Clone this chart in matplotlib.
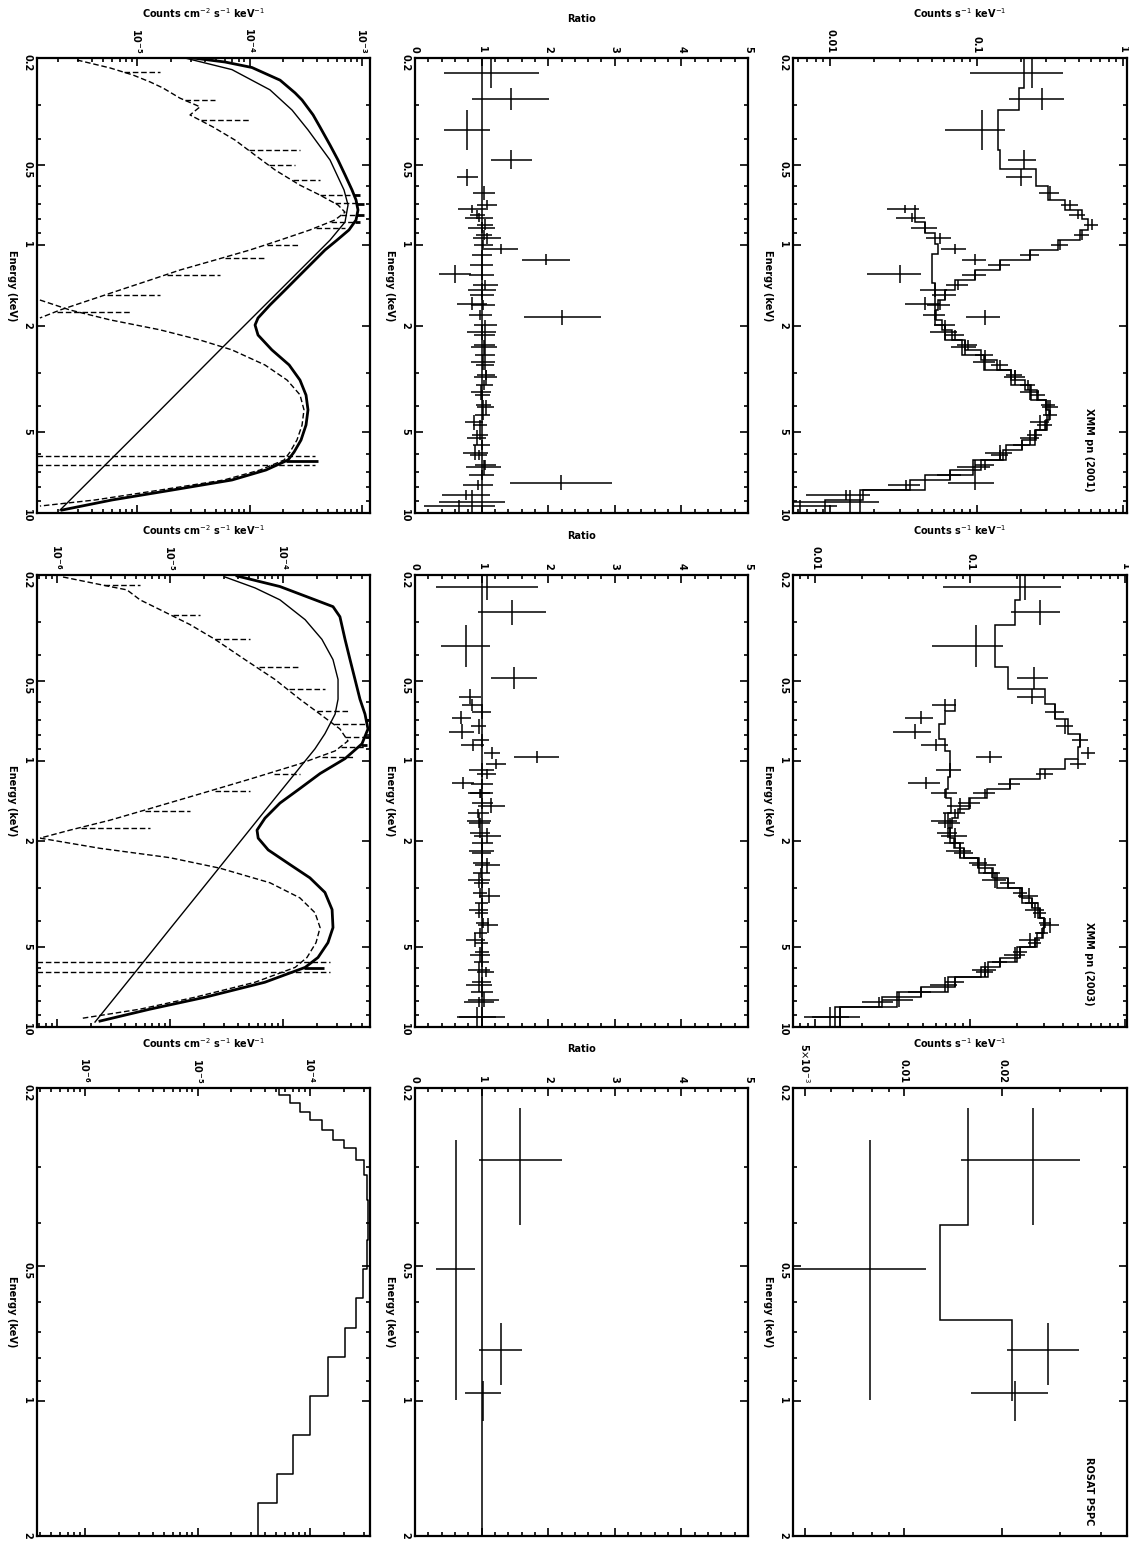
import numpy as np
import matplotlib.pyplot as plt
from matplotlib.ticker import FixedLocator, NullFormatter, LogLocator, MultipleLocator, FuncFormatter

W, H = 1129, 1541
COLS = [(37, 370), (415, 748), (793, 1127)]
ROWS = [(58, 513), (575, 1027), (1088, 1536)]

# ---------------- row 1 : data (two spectra) ----------------
r1a_edges = [0.200, 0.259, 0.313, 0.441, 0.52, 0.60, 0.68, 0.74, 0.80, 0.88, 0.96, 1.04, 1.14, 1.24,
             1.35, 1.47, 1.60, 1.75, 1.90, 2.07, 2.26, 2.46, 2.68, 2.92, 3.19, 3.47, 3.78, 4.12,
             4.50, 4.90, 5.34, 5.82, 6.34, 6.91, 7.53, 8.21, 8.94, 10.0]
r1a_cts = [0.24, 0.28, 0.109, 0.21, 0.20, 0.318, 0.435, 0.49, 0.61, 0.525, 0.37, 0.232, 0.145, 0.098,
           0.075, 0.061, 0.056, 0.052, 0.061, 0.071, 0.087, 0.114, 0.145, 0.183, 0.224, 0.263,
           0.308, 0.318, 0.293, 0.25, 0.204, 0.145, 0.114, 0.066, 0.033, 0.0128, 0.0062]
r1a_err = [0.15, 0.113, 0.048, 0.045, 0.04, 0.05, 0.06, 0.06, 0.07, 0.06, 0.05, 0.035, 0.025, 0.018,
           0.013, 0.011, 0.010, 0.009, 0.010, 0.011, 0.013, 0.016, 0.019, 0.023, 0.027, 0.03,
           0.034, 0.035, 0.033, 0.03, 0.026, 0.02, 0.017, 0.012, 0.008, 0.006, 0.005]
r1a_mod = [0.21, 0.195, 0.14, 0.145, 0.255, 0.308, 0.40, 0.525, 0.577, 0.508, 0.36, 0.232, 0.145,
           0.098, 0.071, 0.061, 0.055, 0.053, 0.058, 0.068, 0.083, 0.108, 0.138, 0.172, 0.215,
           0.26, 0.30, 0.312, 0.30, 0.255, 0.204, 0.152, 0.108, 0.066, 0.035, 0.0167, 0.0093]
r1b_edges = [0.71, 0.76, 0.82, 0.90, 0.99, 1.08, 1.19, 1.39, 1.56, 1.75, 1.98, 2.26, 2.57, 2.92,
             3.32, 3.78, 4.30, 4.90, 5.58, 6.34, 7.21, 8.21, 10.0]
r1b_cts = [0.0325, 0.0364, 0.0445, 0.056, 0.071, 0.098, 0.030, 0.052, 0.0445, 0.115, 0.061, 0.083,
           0.114, 0.183, 0.232, 0.318, 0.271, 0.232, 0.145, 0.098, 0.098, 0.0137]
r1b_err = [0.008, 0.008, 0.009, 0.011, 0.014, 0.018, 0.012, 0.011, 0.012, 0.03, 0.013, 0.016, 0.02,
           0.03, 0.035, 0.04, 0.04, 0.035, 0.03, 0.025, 0.034, 0.008]
r1b_mod = [0.038, 0.038, 0.0445, 0.052, 0.055, 0.05, 0.05, 0.052, 0.052, 0.052, 0.061, 0.08, 0.112,
           0.172, 0.235, 0.30, 0.305, 0.25, 0.16, 0.095, 0.0447, 0.016]

# ---------------- row 2 : data (two spectra) ----------------
r2a_edges = [0.200, 0.248, 0.307, 0.445, 0.538, 0.612, 0.696, 0.79, 0.885, 0.98, 1.07, 1.17, 1.27,
             1.38, 1.51, 1.64, 1.79, 1.95, 2.13, 2.31, 2.53, 2.75, 3.0, 3.27, 3.56, 3.88, 4.23,
             4.62, 5.02, 5.48, 5.97, 6.51, 7.09, 7.73, 8.42, 10.0]
r2a_cts = [0.227, 0.283, 0.11, 0.26, 0.25, 0.354, 0.41, 0.513, 0.577, 0.50, 0.305, 0.181, 0.125,
           0.10, 0.08, 0.074, 0.072, 0.08, 0.092, 0.113, 0.139, 0.176, 0.21, 0.25, 0.283, 0.305,
           0.29, 0.263, 0.21, 0.156, 0.125, 0.08, 0.048, 0.026, 0.0125]
r2a_err = [0.16, 0.10, 0.053, 0.06, 0.05, 0.05, 0.05, 0.06, 0.06, 0.06, 0.04, 0.03, 0.02, 0.016,
           0.013, 0.012, 0.011, 0.012, 0.013, 0.015, 0.018, 0.02, 0.022, 0.025, 0.027, 0.028,
           0.028, 0.026, 0.022, 0.018, 0.015, 0.011, 0.008, 0.006, 0.004]
r2a_mod = [0.21, 0.195, 0.145, 0.175, 0.305, 0.354, 0.43, 0.513, 0.50, 0.41, 0.283, 0.181, 0.128,
           0.099, 0.084, 0.076, 0.074, 0.079, 0.092, 0.113, 0.14, 0.176, 0.215, 0.25, 0.283, 0.30,
           0.295, 0.262, 0.21, 0.156, 0.118, 0.08, 0.048, 0.027, 0.0135]
r2b_edges = [0.586, 0.65, 0.727, 0.83, 0.917, 1.02, 1.15, 1.27, 1.38, 1.57, 1.79, 2.04, 2.31, 2.63,
             3.0, 3.43, 3.88, 4.42, 5.02, 5.71, 6.51, 7.4, 8.42, 10.0]
r2b_cts = [0.069, 0.048, 0.044, 0.06, 0.135, 0.074, 0.052, 0.069, 0.086, 0.069, 0.08, 0.086, 0.125,
           0.145, 0.24, 0.263, 0.328, 0.244, 0.195, 0.125, 0.069, 0.035, 0.0145]
r2b_err = [0.012, 0.01, 0.012, 0.012, 0.025, 0.014, 0.012, 0.013, 0.015, 0.013, 0.015, 0.016, 0.022,
           0.025, 0.035, 0.038, 0.045, 0.038, 0.03, 0.022, 0.014, 0.008, 0.005]
r2b_mod = [0.08, 0.069, 0.063, 0.069, 0.074, 0.074, 0.072, 0.07, 0.075, 0.072, 0.074, 0.086, 0.115,
           0.15, 0.215, 0.275, 0.30, 0.27, 0.2, 0.13, 0.072, 0.034, 0.0145]

# ---------------- row 3 : data (one faint spectrum) ----------------
r3_e = [0.289, 0.507, 0.768, 0.96]
r3_elo = [0.222, 0.261, 0.67, 0.90]
r3_ehi = [0.405, 0.994, 0.92, 1.11]
r3_cts = [0.0248, 0.0079, 0.0275, 0.0218]
r3_err = [0.0098, 0.0038, 0.0068, 0.0058]
r3_mod = [0.0157, 0.0129, 0.0214, 0.0214]
r3_mod_edges = [0.222, 0.405, 0.66, 1.0]
r3_mod_step = [0.0157, 0.0129, 0.0214]

# ---------------- model panels ----------------
m1_tot_e = [0.200, 0.207, 0.217, 0.242, 0.270, 0.287, 0.326, 0.362, 0.423, 0.481, 0.546, 0.622, 0.678,
            0.739, 0.805, 0.877, 0.957, 1.042, 1.155, 1.292, 1.470, 1.672, 1.87, 1.986, 2.165, 2.46,
            2.80, 3.19, 3.63, 4.12, 4.69, 5.34, 5.92, 6.34, 6.91, 7.53, 8.21, 8.94, 9.75]
m1_tot_f = [3.15e-5, 6.05e-5, 1.05e-4, 1.87e-4, 2.54e-4, 2.93e-4, 3.67e-4, 4.23e-4, 5.20e-4, 6.12e-4,
            7.06e-4, 8.15e-4, 8.85e-4, 9.21e-4, 8.85e-4, 7.66e-4, 6.0e-4, 4.69e-4, 3.67e-4, 2.81e-4,
            2.07e-4, 1.52e-4, 1.19e-4, 1.12e-4, 1.19e-4, 1.58e-4, 2.25e-4, 2.81e-4, 3.18e-4, 3.31e-4,
            3.18e-4, 2.87e-4, 2.49e-4, 2.20e-4, 1.40e-4, 6.98e-5, 2.05e-5, 6.0e-6, 2.15e-6]
m1_pl_e = [0.200, 0.221, 0.263, 0.313, 0.371, 0.481, 0.622, 0.708, 0.82, 0.957, 1.470, 2.46, 4.50, 9.75]
m1_pl_f = [2.67e-5, 6.98e-5, 1.52e-4, 2.39e-4, 3.31e-4, 5.20e-4, 6.92e-4, 7.51e-4, 7.06e-4, 5.20e-4,
           1.87e-4, 5.47e-5, 1.31e-5, 2.07e-6]
m1_th_e = [0.2035, 0.2178, 0.2315, 0.2458, 0.2588, 0.2825, 0.3043, 0.3264, 0.362, 0.405, 0.461, 0.524,
           0.597, 0.650, 0.708, 0.753, 0.805, 0.877, 0.957, 1.042, 1.136, 1.238, 1.349, 1.470,
           1.602, 1.746, 1.87]
m1_th_f = [2.93e-6, 5.75e-6, 9.2e-6, 1.31e-5, 1.70e-5, 2.41e-5, 3.63e-5, 2.96e-5, 4.74e-5, 7.43e-5,
           1.12e-4, 1.69e-4, 2.81e-4, 4.23e-4, 6.12e-4, 7.06e-4, 5.75e-4, 3.45e-4, 1.87e-4, 1.01e-4,
           4.94e-5, 2.41e-5, 1.31e-5, 7.06e-6, 3.82e-6, 2.07e-6, 1.37e-6]
m1_thl_e = [0.2256, 0.287, 0.341, 0.441, 0.502, 0.571, 0.650, 0.696, 0.772, 0.82, 0.862, 1.0, 1.115,
            1.295, 1.537, 1.77]
m1_thl_f = [1.60e-5, 4.94e-5, 1.01e-4, 2.81e-4, 2.54e-4, 4.23e-4, 7.82e-4, 9.60e-4, 9.60e-4, 8.67e-4,
            7.06e-4, 2.81e-4, 1.37e-4, 5.47e-5, 1.60e-5, 8.67e-6]
m1_abs_e = [1.602, 1.746, 1.90, 2.07, 2.26, 2.46, 2.80, 3.19, 3.62, 4.12, 4.70, 5.34, 5.92, 6.34, 6.91,
            7.53, 8.21, 8.94, 9.42]
m1_abs_f = [1.37e-6, 2.54e-6, 5.75e-6, 1.60e-5, 3.63e-5, 6.98e-5, 1.37e-4, 2.16e-4, 2.81e-4, 3.05e-4,
            2.93e-4, 2.64e-4, 2.29e-4, 2.03e-4, 1.24e-4, 5.93e-5, 1.60e-5, 4.24e-6, 1.37e-6]
m1_fe_e = [6.1, 6.6]
m1_fe_f = [3.82e-4, 3.82e-4]
m1_spk_e = [0.65, 0.70, 0.77, 0.82, 0.86, 6.4]
m1_spk_f = [9.6e-4, 1.05e-3, 1.05e-3, 9.5e-4, 8.0e-4, 4.06e-4]

m2_tot_e = [0.2017, 0.221, 0.263, 0.287, 0.349, 0.416, 0.494, 0.586, 0.667, 0.758, 0.862, 0.98, 1.115,
            1.27, 1.44, 1.64, 1.82, 1.95, 2.16, 2.45, 2.75, 3.12, 3.62, 4.23, 4.82, 5.48, 5.97, 6.79,
            7.73, 8.57, 9.5]
m2_tot_f = [3.92e-5, 9.4e-5, 2.77e-4, 3.19e-4, 3.54e-4, 3.92e-4, 4.34e-4, 4.80e-4, 5.32e-4, 5.65e-4,
            5.0e-4, 3.54e-4, 2.13e-4, 1.41e-4, 9.4e-5, 6.93e-5, 5.89e-5, 6.03e-5, 7.4e-5, 1.15e-4,
            1.73e-4, 2.35e-4, 2.72e-4, 2.77e-4, 2.50e-4, 2.04e-4, 1.57e-4, 6.9e-5, 2.04e-5, 6.65e-6,
            2.40e-6]
m2_pl_e = [0.2035, 0.2236, 0.248, 0.2944, 0.349, 0.416, 0.494, 0.586, 0.667, 0.79, 0.90, 1.38, 2.75,
           4.23, 6.51, 9.58]
m2_pl_f = [3.07e-5, 5.65e-5, 9.4e-5, 1.57e-4, 2.21e-4, 2.77e-4, 3.07e-4, 3.07e-4, 2.89e-4, 2.35e-4,
           1.92e-4, 8.5e-5, 2.31e-5, 1.02e-5, 4.52e-6, 2.17e-6]
m2_th_e = [0.2035, 0.221, 0.2275, 0.248, 0.270, 0.307, 0.349, 0.416, 0.494, 0.586, 0.667, 0.758, 0.841,
           0.917, 1.025, 1.17, 1.33, 1.51, 1.67, 1.82, 1.95]
m2_th_f = [1.13e-6, 2.94e-6, 4.16e-6, 5.43e-6, 8.16e-6, 1.50e-5, 2.5e-5, 4.61e-5, 8.5e-5, 1.41e-4,
           2.13e-4, 3.19e-4, 3.76e-4, 2.89e-4, 1.41e-4, 5.1e-5, 1.84e-5, 6.65e-6, 2.94e-6, 1.30e-6,
           7.08e-7]
m2_thl_e = [0.2178, 0.2825, 0.349, 0.445, 0.538, 0.65, 0.727, 0.812, 0.885, 0.965, 1.115, 1.295,
            1.537, 1.79]
m2_thl_f = [5.43e-6, 1.84e-5, 5.1e-5, 1.41e-4, 2.35e-4, 3.92e-4, 5.32e-4, 5.65e-4, 5.32e-4, 4.34e-4,
            1.41e-4, 5.1e-5, 1.50e-5, 6.65e-6]
m2_abs_e = [1.95, 2.13, 2.31, 2.53, 2.87, 3.27, 3.72, 4.23, 4.82, 5.48, 5.97, 6.79, 7.73, 8.57, 9.3]
m2_abs_f = [7.08e-7, 2.40e-6, 1.0e-5, 2.77e-5, 7.67e-5, 1.41e-4, 1.92e-4, 2.13e-4, 1.96e-4, 1.63e-4,
            1.28e-4, 5.65e-5, 1.66e-5, 5.43e-6, 1.6e-6]
m2_fe_e = [5.7, 6.2]
m2_fe_f = [2.61e-4, 2.61e-4]
m2_spk_e = [0.70, 0.76, 0.81, 0.87, 6.0]
m2_spk_f = [5.8e-4, 5.8e-4, 5.8e-4, 5.5e-4, 2.3e-4]

m3_e = [0.200, 0.2073, 0.2161, 0.2264, 0.2358, 0.2482, 0.2612, 0.2723, 0.2894, 0.3127, 0.3556, 0.436,
        0.5068, 0.5894, 0.6853, 0.7969, 0.9734, 1.1889, 1.452, 1.6856, 2.0]
m3_f = [4.69e-5, 6.0e-5, 7.36e-5, 9.03e-5, 1.11e-4, 1.42e-4, 1.77e-4, 2.27e-4, 2.90e-4, 3.15e-4,
        3.28e-4, 3.28e-4, 3.15e-4, 2.78e-4, 2.36e-4, 1.70e-4, 1.18e-4, 8.15e-5, 6.0e-5, 4.23e-5, 2.64e-5]

labels = ["XMM pn (2001)", "XMM pn (2003)", "ROSAT PSPC"]

fig = plt.figure(figsize=(W / 100, H / 100), dpi=100)
LW = 1.1
THICK = 2.0


def make_ax(col, row):
    x0, x1 = COLS[col]
    y0, y1 = ROWS[row]
    ax = fig.add_axes([x0 / W, 1 - y1 / H, (x1 - x0) / W, (y1 - y0) / H])
    ax.set_yscale("log")
    if row < 2:
        ax.set_ylim(10, 0.2)
        ax.yaxis.set_major_locator(FixedLocator([0.2, 0.5, 1, 2, 5, 10]))
    else:
        ax.set_ylim(2, 0.2)
        ax.yaxis.set_major_locator(FixedLocator([0.2, 0.5, 1, 2]))
    ax.yaxis.set_major_formatter(FuncFormatter(lambda v, p: f"{v:g}"))
    ax.yaxis.set_minor_locator(LogLocator(subs=np.arange(2, 10)))
    ax.yaxis.set_minor_formatter(NullFormatter())
    ax.xaxis.tick_top()
    ax.xaxis.set_label_position("top")
    ax.tick_params(which="both", direction="in", top=True, bottom=True, left=True, right=True,
                   labeltop=True, labelbottom=False, labelsize=7, width=1.2)
    ax.tick_params(which="major", length=6)
    ax.tick_params(which="minor", length=3)
    ax.tick_params(axis="both", labelrotation=-90)
    for s in ax.spines.values():
        s.set_linewidth(1.6)
    ax.set_ylabel("Energy (keV)", rotation=-90, fontsize=7, fontweight="bold", labelpad=11)
    return ax


def bold_ticks(ax):
    for lab in ax.get_xticklabels() + ax.get_yticklabels():
        lab.set_fontweight("bold")


def draw_spec(ax, axr, edges, cts, err, mod):
    edges = np.asarray(edges)
    lo, hi = edges[:-1], edges[1:]
    ec = np.sqrt(lo * hi)
    cts, err, mod = np.asarray(cts), np.asarray(err), np.asarray(mod)
    ax.stairs(mod, edges, orientation="horizontal", baseline=None, color="k", lw=LW)
    ax.errorbar(cts, ec, xerr=err, yerr=[ec - lo, hi - ec], fmt="none", ecolor="k", elinewidth=LW)
    axr.errorbar(cts / mod, ec, xerr=err / mod, yerr=[ec - lo, hi - ec], fmt="none", ecolor="k",
                 elinewidth=LW)


def draw_model(ax, tot, pl, th, thl, ab, fe, spk):
    dash = (0, (4, 2))
    ax.plot(tot[1], tot[0], color="k", lw=THICK)
    ax.plot(pl[1], pl[0], color="k", lw=1.0)
    ax.plot(th[1], th[0], color="k", lw=1.0, ls=dash)
    ax.plot(ab[1], ab[0], color="k", lw=1.0, ls=dash)
    base = np.interp(np.log(thl[0]), np.log(th[0]), th[1])
    ax.hlines(thl[0], base, thl[1], color="k", lw=1.0, ls=dash)
    ax.hlines(fe[0], ax.get_xlim()[0], fe[1], color="k", lw=1.0, ls=dash)
    tb = np.interp(np.log(spk[0]), np.log(tot[0]), tot[1])
    ax.hlines(spk[0], tb, spk[1], color="k", lw=THICK)


xl_model = [(10 ** -5.889, 10 ** -2.929), (10 ** -6.177, 10 ** -3.23), (10 ** -6.427, 10 ** -3.467)]
xl_data = [(10 ** -2.253, 1.065), (10 ** -2.142, 1.03), (0.0046, 0.048)]
text_y = [0.23, 0.232, 0.176]
r3_ticklab = {0.005: r"5$\times$10$^{-3}$", 0.01: "0.01", 0.02: "0.02"}

for row in range(3):
    axm = make_ax(0, row)
    axm.set_xscale("log")
    axm.set_xlim(*xl_model[row])
    axm.xaxis.set_major_formatter(FuncFormatter(lambda v, p: r"$\mathbf{10^{%d}}$" % round(np.log10(v))))
    axm.set_xlabel(r"Counts cm$^{-2}$ s$^{-1}$ keV$^{-1}$", fontsize=7, fontweight="bold")
    axm.xaxis.set_label_coords(0.5, 1.089)

    axr = make_ax(1, row)
    axr.set_xlim(0, 5)
    axr.xaxis.set_major_locator(MultipleLocator(1))
    axr.xaxis.set_minor_locator(MultipleLocator(0.2))
    axr.axvline(1, color="k", lw=LW)
    axr.set_xlabel("Ratio", fontsize=7, fontweight="bold")
    axr.xaxis.set_label_coords(0.5, 1.08)

    axd = make_ax(2, row)
    axd.set_xscale("log")
    axd.set_xlim(*xl_data[row])
    axd.set_xlabel(r"Counts s$^{-1}$ keV$^{-1}$", fontsize=7, fontweight="bold")
    axd.xaxis.set_label_coords(0.5, 1.089)
    axd.text(0.885, text_y[row], labels[row], transform=axd.transAxes, rotation=-90, ha="center",
             va="top", fontsize=7, fontweight="bold")

    if row < 2:
        axd.xaxis.set_major_formatter(FuncFormatter(lambda v, p: f"{v:g}"))
    else:
        axd.xaxis.set_major_locator(FixedLocator([0.005, 0.01, 0.02]))
        axd.xaxis.set_major_formatter(FuncFormatter(lambda v, p: r3_ticklab.get(round(v, 3), "")))
        axd.xaxis.set_minor_locator(FixedLocator([0.006, 0.007, 0.008, 0.009, 0.03, 0.04]))
        axd.xaxis.set_minor_formatter(NullFormatter())

    if row == 0:
        draw_spec(axd, axr, r1a_edges, r1a_cts, r1a_err, r1a_mod)
        draw_spec(axd, axr, r1b_edges, r1b_cts, r1b_err, r1b_mod)
        draw_model(axm, (m1_tot_e, m1_tot_f), (m1_pl_e, m1_pl_f), (m1_th_e, m1_th_f),
                   (m1_thl_e, m1_thl_f), (m1_abs_e, m1_abs_f), (m1_fe_e, m1_fe_f),
                   (m1_spk_e, m1_spk_f))
    elif row == 1:
        draw_spec(axd, axr, r2a_edges, r2a_cts, r2a_err, r2a_mod)
        draw_spec(axd, axr, r2b_edges, r2b_cts, r2b_err, r2b_mod)
        draw_model(axm, (m2_tot_e, m2_tot_f), (m2_pl_e, m2_pl_f), (m2_th_e, m2_th_f),
                   (m2_thl_e, m2_thl_f), (m2_abs_e, m2_abs_f), (m2_fe_e, m2_fe_f),
                   (m2_spk_e, m2_spk_f))
    else:
        e = np.asarray(r3_e)
        yerr = [e - np.asarray(r3_elo), np.asarray(r3_ehi) - e]
        cts, err, mod = np.asarray(r3_cts), np.asarray(r3_err), np.asarray(r3_mod)
        axd.stairs(r3_mod_step, r3_mod_edges, orientation="horizontal", baseline=None, color="k", lw=LW)
        axd.errorbar(cts, e, xerr=err, yerr=yerr, fmt="none", ecolor="k", elinewidth=LW)
        axr.errorbar(cts / mod, e, xerr=err / mod, yerr=yerr, fmt="none", ecolor="k", elinewidth=LW)
        axm.plot(m3_f, m3_e, color="k", lw=LW, drawstyle="steps-mid")

    for ax in (axm, axr, axd):
        bold_ticks(ax)

fig.savefig("out.png", dpi=100)
